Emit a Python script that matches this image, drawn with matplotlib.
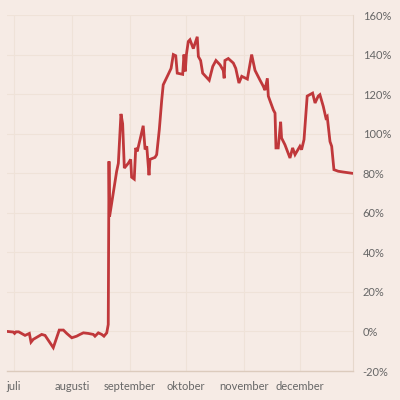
import numpy as np
import pandas as pd
import matplotlib.pyplot as plt
import matplotlib.dates as mdates
from matplotlib.ticker import FuncFormatter

# days after 1 July, and change in percent
DAYS = [-3.6, -0.4, 0.3, 1.1, 2.5, 5.9, 8.2, 9.1, 10.3, 12.1, 14.8, 16.6, 18.3,
        21.0, 21.9, 24.2, 26.4, 28.2, 30.9, 33.5, 35.3, 37.1, 39.7, 42.4, 43.3,
        45.1, 46.9, 48.1, 49.6, 50.4, 50.8, 51.1, 54.9, 55.8, 57.2, 58.1, 59.0,
        61.1, 62.4, 62.9, 64.3, 65.1, 65.9, 67.4, 69.1, 70.1, 71.0, 72.2, 72.7,
        75.4, 76.3, 77.7, 79.0, 79.8, 82.5, 84.0, 85.2, 86.5, 87.3, 90.2, 90.9,
        91.6, 92.2, 93.2, 94.1, 95.9, 98.0, 98.6, 99.8, 100.9, 104.4, 106.3,
        108.0, 110.2, 111.9, 112.4, 112.8, 114.6, 117.3, 118.6, 120.3, 121.8,
        124.8, 127.1, 128.9, 131.6, 133.3, 134.2, 135.5, 136.0, 138.7, 139.6,
        140.1, 141.3, 142.6, 143.1, 144.9, 147.6, 149.0, 150.3, 152.9, 153.8,
        155.1, 156.8, 159.7, 161.0, 162.7, 163.6, 165.4, 166.8, 167.5, 169.0,
        169.9, 171.1, 173.4, 176.1, 180.6]
CHANGE = [0.0, -0.3, -1.0, -0.2, -0.2, -2.0, -1.0, -5.4, -4.0, -3.0, -1.5, -2.0,
          -4.4, -8.2, -5.7, 0.7, 0.7, -1.0, -3.2, -2.4, -1.5, -0.7, -1.0, -1.5,
          -2.4, -0.7, -1.5, -2.4, -0.7, 3.5, 86.0, 58.0, 81.0, 85.0, 110.0, 105.0,
          82.6, 85.0, 87.0, 78.0, 77.0, 92.8, 91.0, 97.0, 104.0, 92.0, 93.6,
          79.0, 87.0, 88.0, 89.4, 102.0, 117.0, 124.7, 130.0, 133.0, 140.0,
          139.4, 130.6, 130.0, 140.0, 131.5, 140.0, 146.6, 147.5, 143.0, 149.0,
          139.0, 137.0, 130.6, 127.0, 134.0, 137.0, 134.8, 132.0, 128.0, 137.0,
          138.0, 135.7, 133.0, 125.6, 129.0, 127.6, 140.0, 132.0, 127.0, 124.0,
          122.0, 128.0, 119.0, 112.0, 110.4, 92.8, 92.8, 106.0, 97.8, 94.4, 87.7,
          92.8, 89.4, 93.6, 91.9, 97.0, 119.0, 120.5, 115.5, 119.0, 119.7, 113.8,
          108.0, 108.7, 96.0, 93.6, 81.8, 81.0, 80.6, 80.0]

MONTH_LABELS = ["juli", "augusti", "september", "oktober", "november", "december"]
Y_TICKS = [-20, 0, 20, 40, 60, 80, 100, 120, 140, 160]

BG = "#f6ebe5"
GRID = "#efe2d8"
AXIS = "#dccbbd"
TEXT = "#666666"
RED = "#c0383b"

plt.rcParams["font.family"] = ["Lato", "DejaVu Sans"]

start = pd.Timestamp("2021-07-01")
dates = start + pd.to_timedelta(DAYS, unit="D")
months = pd.date_range(start, periods=len(MONTH_LABELS), freq="MS")

fig = plt.figure(figsize=(4, 4), dpi=100, facecolor=BG)
ax = fig.add_axes([0.0175, 0.0725, 0.865, 0.89])
ax.set_facecolor(BG)

ax.plot(dates, CHANGE, color=RED, linewidth=2.0, solid_joinstyle="miter", zorder=3)

ax.set_ylim(-20, 160)
ax.set_xlim(start - pd.Timedelta(days=3.75), start + pd.Timedelta(days=181.3))

ax.yaxis.tick_right()
ax.set_yticks(Y_TICKS)
ax.yaxis.set_major_formatter(FuncFormatter(lambda v, p: f"{v:.0f}%"))
ax.set_xticks(mdates.date2num(months))
ax.set_xticklabels(MONTH_LABELS, ha="center")

ax.tick_params(axis="both", length=0, labelsize=8, colors=TEXT)
ax.tick_params(axis="y", pad=7)
ax.tick_params(axis="x", pad=7)

ax.grid(True, color=GRID, linewidth=0.8, zorder=0)
for s in ["top", "left"]:
    ax.spines[s].set_visible(False)
ax.spines["bottom"].set_color(AXIS)
ax.spines["right"].set_color("#e6d8cc")
ax.spines["bottom"].set_linewidth(1.0)
ax.spines["right"].set_linewidth(0.8)

fig.savefig("out.png", dpi=100, facecolor=BG)
